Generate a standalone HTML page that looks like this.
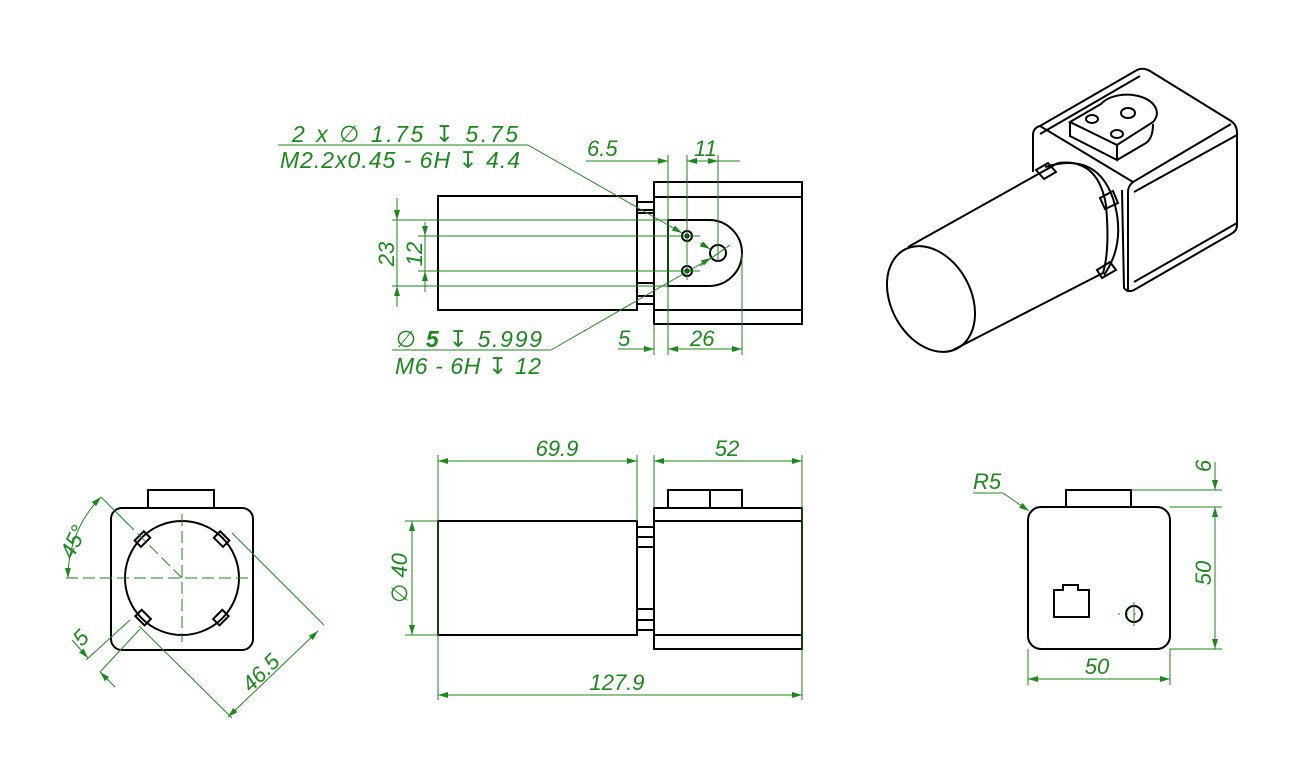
<!DOCTYPE html>
<html><head><meta charset="utf-8"><style>
html,body{margin:0;padding:0;background:#fff}
svg{display:block}
.k{fill:none;stroke:#000;stroke-width:2}
.g{fill:none;stroke:#1a8a1a;stroke-width:1}
.d{fill:none;stroke:#1a8a1a;stroke-width:1;stroke-dasharray:12 5}
text{font-family:"Liberation Sans","DejaVu Sans",sans-serif;font-style:italic;fill:#1a8a1a;font-size:22px}
.L{font-size:23px}
</style></head><body>
<svg width="1297" height="775" viewBox="0 0 1297 775" xmlns="http://www.w3.org/2000/svg">
<defs><marker id="a" viewBox="0 0 10 6" refX="10" refY="3" markerWidth="10" markerHeight="6" orient="auto-start-reverse" markerUnits="userSpaceOnUse"><path d="M0,0L10,3L0,6z" fill="#1a8a1a"/></marker></defs>

<!-- TOP VIEW -->
<rect class="k" x="438" y="196" width="199" height="114"/>
<rect class="k" x="637" y="202" width="17" height="102"/>
<line class="k" x1="637" y1="213" x2="654" y2="213"/>
<line class="k" x1="637" y1="283" x2="654" y2="283"/>
<line class="k" x1="637" y1="296" x2="654" y2="296"/>
<line class="k" x1="637" y1="210" x2="654" y2="210"/>
<rect class="k" x="654" y="182" width="148" height="142"/>
<line class="k" x1="654" y1="197" x2="802" y2="197"/>
<line class="k" x1="654" y1="310" x2="802" y2="310"/>
<path class="k" d="M668,220 L709,220 A33,33 0 0 1 709,286 L668,286 Z"/>
<circle class="k" cx="687" cy="236" r="5"/><circle cx="687" cy="236" r="2.5" fill="#000"/>
<circle class="k" cx="687" cy="271" r="5"/><circle cx="687" cy="271" r="2.5" fill="#000"/>
<circle class="k" cx="718" cy="253" r="8"/>
<line class="g" x1="668" y1="155" x2="668" y2="355"/>
<line class="g" x1="687" y1="155" x2="687" y2="280"/>
<line class="g" x1="718" y1="155" x2="718" y2="262"/>
<line class="g" x1="742" y1="253" x2="742" y2="355"/>
<line class="g" x1="654" y1="324" x2="654" y2="355"/>
<line class="g" x1="586" y1="161" x2="668" y2="161" marker-end="url(#a)"/>
<line class="g" x1="708" y1="161" x2="687" y2="161" marker-end="url(#a)"/>
<line class="g" x1="687" y1="161" x2="740" y2="161"/>
<line class="g" x1="697" y1="161" x2="718" y2="161" marker-end="url(#a)"/>
<text x="587" y="156">6.5</text>
<text x="694" y="156">11</text>
<line class="g" x1="618" y1="349" x2="654" y2="349" marker-end="url(#a)"/>
<line class="g" x1="668" y1="349" x2="742" y2="349" marker-start="url(#a)" marker-end="url(#a)"/>
<text x="618" y="346">5</text>
<text x="690" y="346">26</text>
<line class="g" x1="392" y1="220" x2="668" y2="220"/>
<line class="g" x1="392" y1="286" x2="668" y2="286"/>
<line class="g" x1="418" y1="236" x2="700" y2="236"/>
<line class="g" x1="418" y1="271" x2="700" y2="271"/>
<line class="g" x1="397" y1="198" x2="397" y2="220" marker-end="url(#a)"/>
<line class="g" x1="397" y1="307" x2="397" y2="286" marker-end="url(#a)"/>
<line class="g" x1="397" y1="220" x2="397" y2="286"/>
<line class="g" x1="425" y1="222" x2="425" y2="236" marker-end="url(#a)"/>
<line class="g" x1="425" y1="292" x2="425" y2="271" marker-end="url(#a)"/>
<line class="g" x1="425" y1="236" x2="425" y2="271"/>
<text transform="translate(394,254) rotate(-90)" text-anchor="middle">23</text>
<text transform="translate(422,254) rotate(-90)" text-anchor="middle">12</text>
<line class="g" x1="730" y1="245" x2="700" y2="266"/>
<line class="g" x1="700" y1="243" x2="710" y2="249" marker-end="url(#a)"/>
<line class="g" x1="278" y1="145" x2="528" y2="145"/>
<line class="g" x1="528" y1="145" x2="682" y2="233" marker-end="url(#a)"/>
<text class="L" x="292" y="142" textLength="226">2 x ∅  1.75 ↧  5.75</text>
<text class="L" x="280" y="168" textLength="240">M2.2x0.45 - 6H ↧  4.4</text>
<line class="g" x1="392" y1="350" x2="551" y2="350"/>
<line class="g" x1="551" y1="350" x2="711" y2="258" marker-end="url(#a)"/>
<text class="L" x="396" y="347" textLength="146">∅  <tspan font-weight="bold">5</tspan> ↧  5.999</text>
<text class="L" x="395" y="374" textLength="146">M6 - 6H ↧  12</text>

<!-- ISO VIEW -->
<path class="k" d="M1033,135 Q1033,128 1040,126 L1137,70 Q1143,67 1150,71 L1231,121 Q1237,125 1237,133 L1237,225 Q1237,231 1231,234 L1134,290 Q1128,293 1124,288 L1122,190"/>
<path class="k" d="M1040,126 L1133,182 Q1128,186 1128,192 L1128,292"/>
<line class="k" x1="1133" y1="182" x2="1231" y2="124"/>
<line class="k" x1="1134" y1="192" x2="1237" y2="135"/>
<line class="k" x1="1134" y1="282" x2="1237" y2="223"/>
<line class="k" x1="1040" y1="134" x2="1140" y2="76"/>
<path class="k" d="M1033,135 L1033,172"/>
<path class="k" d="M1070,122 L1101,104 A26,16 0 0 1 1153,122 L1117,145 Z"/>
<path class="k" d="M1070,122 L1070,136 L1117,160 L1117,145 M1117,160 L1146,143 Q1153,138 1153,124"/>
<ellipse class="k" cx="1092" cy="119" rx="6" ry="4"/>
<ellipse class="k" cx="1128" cy="113" rx="7" ry="5"/>
<ellipse class="k" cx="1117" cy="134" rx="6" ry="4"/>
<path d="M908,247 L1058,163 Q1098,158 1106,205 Q1110,250 1103,273 L953,350 Z" fill="#fff"/>
<path class="k" d="M1045,167 Q1100,150 1115,205 Q1125,245 1104,275"/>
<path class="k" d="M1036,170 L1048,163 L1056,172 L1044,179 Z" fill="#fff"/>
<path class="k" d="M1100,198 L1113,191 L1118,203 L1105,209 Z" fill="#fff"/>
<path class="k" d="M1097,270 L1110,262 L1116,270 L1102,278 Z" fill="#fff"/>
<line class="k" x1="908" y1="247" x2="1058" y2="163"/>
<line class="k" x1="953" y1="350" x2="1103" y2="273"/>
<path class="k" d="M1058,163 Q1098,158 1106,205 Q1110,250 1103,273"/>
<ellipse class="k" cx="931" cy="299" rx="40" ry="56" transform="rotate(-28 931 299)" fill="#fff"/>

<!-- LEFT VIEW -->
<rect class="k" x="148" y="490" width="66" height="18"/>
<rect class="k" x="111" y="508" width="142" height="142" rx="11" fill="#fff"/>
<circle class="k" cx="182" cy="578" r="57"/>
<g transform="rotate(45 182 578)">
<rect class="k" x="122" y="572" width="9" height="13" fill="#fff"/>
<rect class="k" x="233" y="572" width="9" height="13" fill="#fff"/>
<rect class="k" x="176" y="518" width="13" height="9" fill="#fff"/>
<rect class="k" x="176" y="629" width="13" height="9" fill="#fff"/>
</g>
<line class="d" x1="66" y1="578" x2="250" y2="578"/>
<line class="d" x1="182" y1="514" x2="182" y2="642"/>
<line class="d" x1="182" y1="578" x2="118" y2="514"/>
<path class="g" d="M68,578 A114,114 0 0 1 101,497" marker-start="url(#a)" marker-end="url(#a)"/>
<line class="g" x1="101" y1="497" x2="128" y2="524"/>
<text transform="translate(80,545) rotate(-65)" text-anchor="middle" font-size="26">45°</text>
<line class="g" x1="232" y1="533" x2="324" y2="625"/>
<line class="g" x1="139" y1="626" x2="232" y2="718"/>
<line class="g" x1="318" y1="631" x2="228" y2="717" marker-start="url(#a)" marker-end="url(#a)"/>
<text transform="translate(266,678) rotate(-45)" text-anchor="middle" font-size="24">46.5</text>
<line class="g" x1="130" y1="620" x2="86" y2="660"/>
<line class="g" x1="140" y1="629" x2="100" y2="672"/>
<line class="g" x1="72" y1="640" x2="88" y2="658" marker-end="url(#a)"/>
<line class="g" x1="115" y1="687" x2="100" y2="672" marker-end="url(#a)"/>
<text transform="translate(86,643) rotate(-45)" text-anchor="middle" font-size="19">5</text>

<!-- FRONT VIEW -->
<rect class="k" x="668" y="490" width="74" height="18"/>
<line class="k" x1="710" y1="490" x2="710" y2="508"/>
<rect class="k" x="654" y="508" width="148" height="141"/>
<line class="k" x1="654" y1="521" x2="802" y2="521"/>
<line class="k" x1="654" y1="635" x2="802" y2="635"/>
<rect class="k" x="438" y="521" width="199" height="114"/>
<rect class="k" x="637" y="527" width="17" height="103"/>
<line class="k" x1="637" y1="537" x2="654" y2="537"/>
<line class="k" x1="637" y1="547" x2="654" y2="547"/>
<line class="k" x1="637" y1="609" x2="654" y2="609"/>
<line class="k" x1="637" y1="620" x2="654" y2="620"/>
<line class="g" x1="438" y1="455" x2="438" y2="700"/>
<line class="g" x1="637" y1="455" x2="637" y2="521"/>
<line class="g" x1="654" y1="455" x2="654" y2="508"/>
<line class="g" x1="802" y1="455" x2="802" y2="700"/>
<line class="g" x1="438" y1="461" x2="637" y2="461" marker-start="url(#a)" marker-end="url(#a)"/>
<line class="g" x1="654" y1="461" x2="802" y2="461" marker-start="url(#a)" marker-end="url(#a)"/>
<line class="g" x1="438" y1="695" x2="802" y2="695" marker-start="url(#a)" marker-end="url(#a)"/>
<text x="557" y="456" text-anchor="middle">69.9</text>
<text x="727" y="456" text-anchor="middle">52</text>
<text x="617" y="690" text-anchor="middle">127.9</text>
<line class="g" x1="405" y1="521" x2="438" y2="521"/>
<line class="g" x1="405" y1="635" x2="438" y2="635"/>
<line class="g" x1="412" y1="521" x2="412" y2="635" marker-start="url(#a)" marker-end="url(#a)"/>
<text transform="translate(407,578) rotate(-90)" text-anchor="middle">∅ 40</text>

<!-- RIGHT VIEW -->
<rect class="k" x="1066" y="490" width="65" height="17"/>
<rect class="k" x="1028" y="507" width="142" height="142" rx="13" fill="#fff"/>
<path class="k" d="M1054,590 L1063,590 L1063,585 L1078,585 L1078,590 L1089,590 L1089,617 L1054,617 Z"/>
<circle class="k" cx="1134" cy="614" r="8"/>
<line class="g" x1="1134" y1="602" x2="1134" y2="626"/>
<line class="g" x1="1118" y1="614" x2="1150" y2="614" stroke-dasharray="2 6"/>
<line class="g" x1="1131" y1="490" x2="1222" y2="490"/>
<line class="g" x1="1170" y1="507" x2="1222" y2="507"/>
<line class="g" x1="1170" y1="649" x2="1222" y2="649"/>
<line class="g" x1="1215" y1="462" x2="1215" y2="490" marker-end="url(#a)"/>
<line class="g" x1="1215" y1="507" x2="1215" y2="649" marker-start="url(#a)" marker-end="url(#a)"/>
<text transform="translate(1211,466) rotate(-90)" text-anchor="middle" font-size="19">6</text>
<text transform="translate(1211,573) rotate(-90)" text-anchor="middle">50</text>
<line class="g" x1="1028" y1="649" x2="1028" y2="685"/>
<line class="g" x1="1170" y1="649" x2="1170" y2="685"/>
<line class="g" x1="1028" y1="679" x2="1170" y2="679" marker-start="url(#a)" marker-end="url(#a)"/>
<text x="1097" y="674" text-anchor="middle">50</text>
<line class="g" x1="973" y1="493" x2="1003" y2="493"/>
<line class="g" x1="1003" y1="493" x2="1029" y2="511" marker-end="url(#a)"/>
<text x="973" y="489" font-size="19">R5</text>
</svg>
</body></html>
